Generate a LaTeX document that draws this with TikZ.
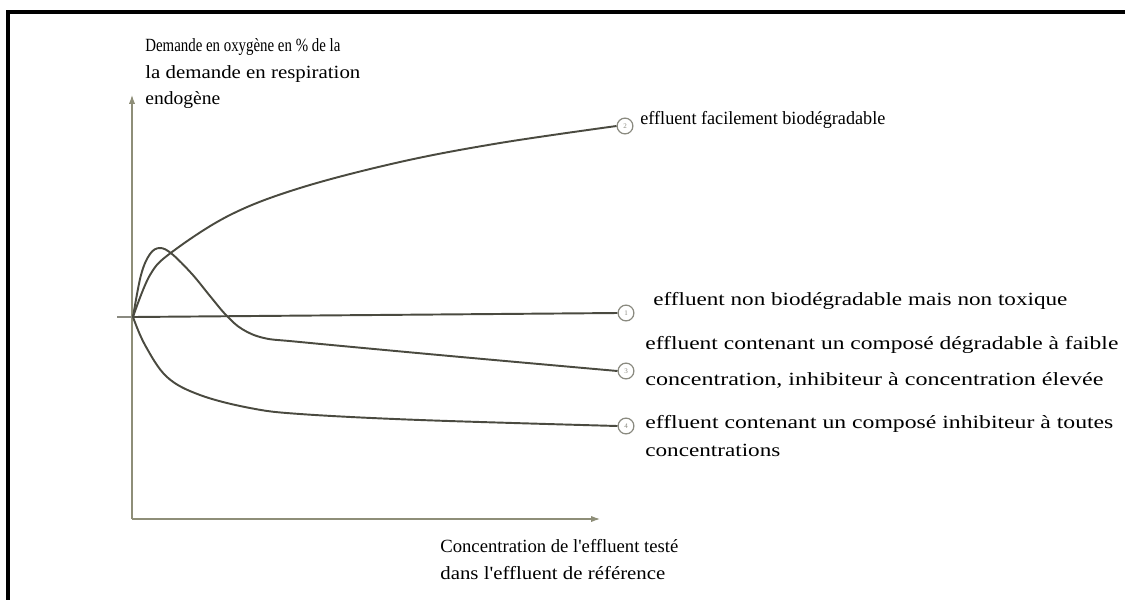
\documentclass[tikz,border=0pt]{standalone}
\usepackage{fontspec}
\setmainfont{Liberation Serif}[Ligatures=TeXOff]
\usetikzlibrary{arrows.meta}
\definecolor{curvecol}{HTML}{4A4A40}
\definecolor{axiscol}{HTML}{8E8E78}
\definecolor{markcol}{HTML}{8A8A80}
% set a line of text to a given width (in 0.02cm units), keeping its height
\newcommand\fitw[2]{\resizebox{#1\dimexpr 0.02cm\relax}{\height}{#2}}
\begin{document}
\begin{tikzpicture}[x=0.02cm,y=-0.02cm,
  curve/.style={draw=curvecol,line width=1.1pt},
  axis/.style={draw=axiscol,line width=0.6pt,-{Latex[length=5pt,width=3.5pt]}},
  marker/.style={circle,draw=markcol,line width=0.7pt,inner sep=0pt,minimum size=9pt,
    font=\fontsize{4}{4}\selectfont,text=markcol},
  lbl/.style={anchor=base west,inner sep=0pt,text=black,font=\fontsize{10.6}{13}\selectfont}]
\useasboundingbox (0,0) rectangle (1125,599);
\fill[white] (0,0) rectangle (1125,599);
% outer frame
\draw[line width=1.8pt,line cap=rect] (8,599) -- (8,12) -- (1125,12);

% axes
\coordinate (C) at (132,519);
\coordinate (Ytop) at (132,95);
\coordinate (Xend) at (600,519);
\coordinate (O) at (133,317);
\coordinate (T) at (117,317);
\draw[axis] (C) -- (Ytop);
\draw[axis] (C) -- (Xend);
\draw[draw=markcol,line width=1.3pt] (T) -- (O);

% end markers
\node[marker] (c2) at (625,126) {2};
\node[marker] (c1) at (626,313) {1};
\node[marker] (c3) at (626,371) {3};
\node[marker] (c4) at (626,426) {4};

% curves
\draw[curve] (O) -- (c1.west);
\draw[curve] plot[smooth,tension=0.6] coordinates {(O) (150,275) (172,252) (230,215) (300,188) (400,162) (500,143) (c2.west)};
\draw[curve] plot[smooth,tension=0.6] coordinates {(O) (141,275) (150,254) (160,248) (172,254) (192,274) (210,296) (226,315) (242,329) (264,338) (300,342) (450,356) (c3.west)};
\draw[curve] plot[smooth,tension=0.6] coordinates {(O) (145,345) (167,377) (200,395) (250,408) (300,414) (420,420) (c4.west)};

% axis titles
\node[lbl] (ya) at (145,51) {\fitw{195}{Demande en oxygène en \% de la}};
\node[lbl] (yb) at (145,78) {\fitw{215}{la demande en respiration}};
\node[lbl] (yc) at (145,104) {\fitw{75}{endogène}};
\node[lbl] (xa) at (440,552) {\fitw{238}{Concentration de l'effluent testé}};
\node[lbl] (xb) at (440,579) {\fitw{225}{dans l'effluent de référence}};

% curve labels
\node[lbl] (l2) at (640,124) {\fitw{245}{effluent facilement biodégradable}};
\node[lbl] (l1) at (653,305) {\fitw{414}{effluent non biodégradable mais non toxique}};
\node[lbl] (l3a) at (645,349) {\fitw{473}{effluent contenant un composé dégradable à faible}};
\node[lbl] (l3b) at (645,385) {\fitw{458}{concentration, inhibiteur à concentration élevée}};
\node[lbl] (l4a) at (645,428) {\fitw{468}{effluent contenant un composé inhibiteur à toutes}};
\node[lbl] (l4b) at (645,456) {\fitw{135}{concentrations}};
\end{tikzpicture}
\end{document}
